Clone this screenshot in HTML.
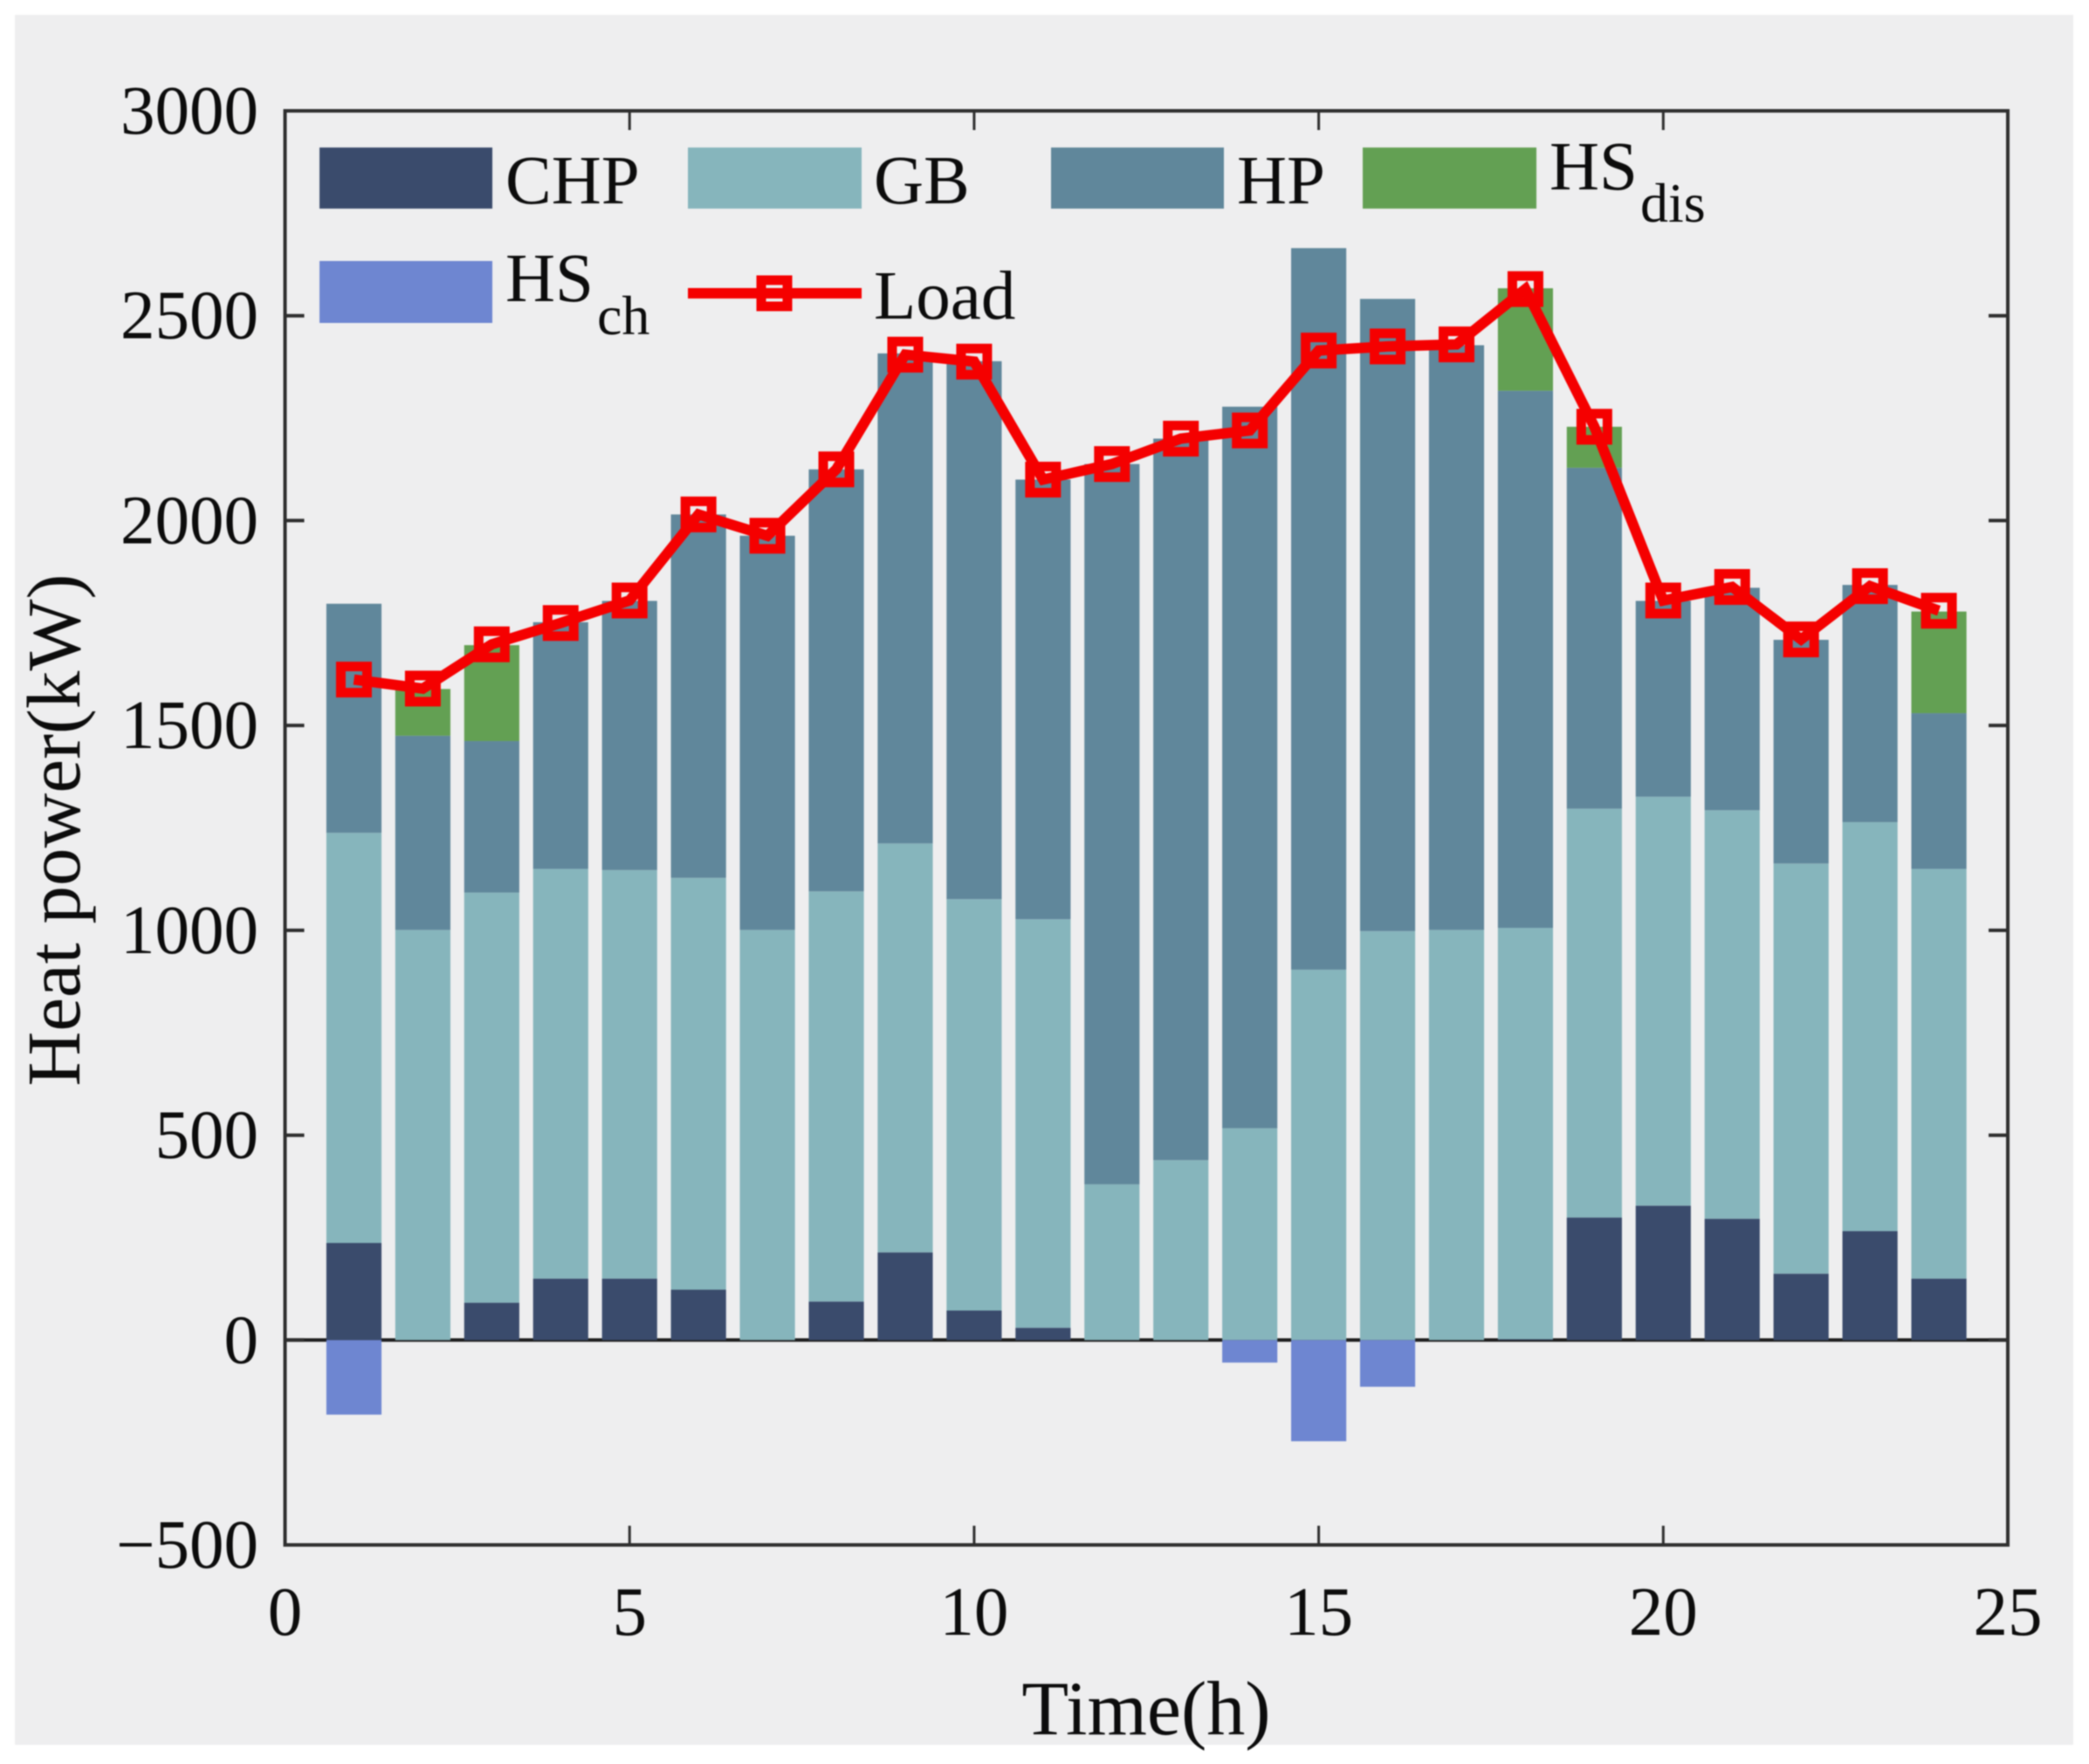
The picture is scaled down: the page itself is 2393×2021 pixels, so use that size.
<!DOCTYPE html>
<html>
<head>
<meta charset="utf-8">
<title>Heat power stacked bar chart</title>
<style>
html,body{margin:0;padding:0;background:#fff;}
svg{display:block;filter:blur(0.7px);}
text{font-family:"Liberation Serif",serif;fill:#0c0c0c;}
</style>
</head>
<body>
<svg id="chart" xmlns="http://www.w3.org/2000/svg" width="2393" height="2021" viewBox="0 0 2393 2021">
  <rect x="0" y="0" width="2393" height="2021" fill="#ffffff"/>
  <rect x="17" y="17" width="2358" height="1982" fill="#eeeeef"/>
  <g id="marks"></g>
  <g id="axes"></g>
  <g id="line"></g>
  <g>
    <g>
      <rect x="366" y="169" width="198" height="70" fill="#3a4b6c"/>
      <text x="579" y="233" font-size="79">CHP</text>
    </g>
    <g>
      <rect x="788" y="169" width="199" height="70" fill="#86b5bc"/>
      <text x="1001" y="233" font-size="79">GB</text>
    </g>
    <g>
      <rect x="1204" y="169" width="198" height="70" fill="#60879b"/>
      <text x="1417" y="233" font-size="79">HP</text>
    </g>
    <g>
      <rect x="1561" y="169" width="199" height="70" fill="#63a053"/>
      <text x="1775" y="217" font-size="79">HS</text>
      <text x="1879" y="254" font-size="64">dis</text>
    </g>
    <g>
      <rect x="366" y="299" width="198" height="71" fill="#6e86d1"/>
      <text x="579" y="345" font-size="79">HS</text>
      <text x="684" y="383" font-size="64">ch</text>
    </g>
    <g>
      <line x1="788" y1="336" x2="987" y2="336" stroke="#f50000" stroke-width="12"/>
      <rect x="872" y="321" width="30" height="30" fill="none" stroke="#f50000" stroke-width="11"/>
      <text x="1001" y="365" font-size="79">Load</text>
    </g>
  </g>
  <text x="1313" y="1987" font-size="88" text-anchor="middle">Time(h)</text>
  <text x="0" y="0" font-size="87" text-anchor="middle" transform="translate(91 951) rotate(-90)">Heat power(kW)</text>
</svg>
<script>
var hours = [1,2,3,4,5,6,7,8,9,10,11,12,13,14,15,16,17,18,19,20,21,22,23,24];
var chp = [237,0,91,150,150,123,0,94,214,72,30,0,0,0,0,0,0,2,299,328,296,162,266,150];
var gb = [1001,1001,1001,1000,997,1005,1001,1001,998,1004,997,380,439,517,904,998,1001,1004,998,998,997,1001,998,1000];
var hp = [559,474,370,602,657,887,962,1030,1196,1313,1073,1758,1761,1761,1761,1543,1427,1311,832,478,543,546,579,380];
var hsDis = [0,114,234,0,0,0,0,0,0,0,0,0,0,0,0,0,0,250,100,0,0,0,0,248];
var hsCh = [-182,0,0,0,0,0,0,0,0,0,0,0,0,-55,-247,-114,0,0,0,0,0,0,0,0];
var load = [1612,1590,1698,1750,1805,2015,1963,2125,2405,2388,2100,2138,2200,2220,2415,2425,2430,2565,2229,1805,1838,1710,1840,1780];
var xTicks = [0,5,10,15,20,25];
var yTicks = [-500,0,500,1000,1500,2000,2500,3000];

var plotLeft = 326.5, plotRight = 2300, plotTop = 127, plotBottom = 1770;
var xMin = 0, xMax = 25, yMin = -500, yMax = 3000;
var barUnits = 0.8;
var NS = 'http://www.w3.org/2000/svg';
function xScale(v){ return plotLeft + (v - xMin) / (xMax - xMin) * (plotRight - plotLeft); }
function yScale(v){ return plotBottom - (v - yMin) / (yMax - yMin) * (plotBottom - plotTop); }
function make(tag, parent, attrs){
  var el = document.createElementNS(NS, tag);
  for (var k in attrs) { el.setAttribute(k, attrs[k]); }
  parent.appendChild(el);
  return el;
}
var marks = document.getElementById('marks');
var axes = document.getElementById('axes');
var lineGroup = document.getElementById('line');
var barWidth = xScale(barUnits) - xScale(0);

var zero = make('line', marks, {x1: plotLeft, x2: plotRight, y1: yScale(0), y2: yScale(0), stroke: '#1c1c1c', 'stroke-width': 4});



function drawBar(hour, from, to, color, kind){
  var top = Math.min(yScale(from), yScale(to));
  var h = Math.abs(yScale(from) - yScale(to));
  var r = make('rect', marks, {x: xScale(hour) - barWidth / 2, y: top, width: barWidth, height: h, fill: color});
  
  
}
hours.forEach(function(hour, i){
  var s = 0;
  if (chp[i] > 0) { drawBar(hour, s, s + chp[i], '#3a4b6c', 'chp'); }
  s += chp[i];
  drawBar(hour, s, s + gb[i], '#86b5bc', 'gb');
  s += gb[i];
  drawBar(hour, s, s + hp[i], '#60879b', 'hp');
  s += hp[i];
  if (hsDis[i] > 0) { drawBar(hour, s, s + hsDis[i], '#63a053', 'hs-dis'); }
  if (hsCh[i] < 0) { drawBar(hour, 0, hsCh[i], '#6e86d1', 'hs-ch'); }
});

var frame = make('rect', axes, {x: plotLeft, y: plotTop, width: plotRight - plotLeft, height: plotBottom - plotTop, fill: 'none', stroke: '#2e2e2e', 'stroke-width': 4});



var tickLen = 22;
xTicks.forEach(function(t){
  var x = xScale(t);
  var a = make('line', axes, {x1: x, x2: x, y1: plotBottom, y2: plotBottom - tickLen, stroke: '#2e2e2e', 'stroke-width': 3});
  
  
  var b = make('line', axes, {x1: x, x2: x, y1: plotTop, y2: plotTop + tickLen, stroke: '#2e2e2e', 'stroke-width': 3});
  
  
  var lab = make('text', axes, {x: x, y: 1873, 'font-size': 79, 'text-anchor': 'middle'});
  lab.textContent = String(t);
  
  
});
yTicks.forEach(function(t){
  var y = yScale(t);
  var a = make('line', axes, {x1: plotLeft, x2: plotLeft + tickLen, y1: y, y2: y, stroke: '#2e2e2e', 'stroke-width': 4});
  
  
  var b = make('line', axes, {x1: plotRight, x2: plotRight - tickLen, y1: y, y2: y, stroke: '#2e2e2e', 'stroke-width': 4});
  
  
  var lab = make('text', axes, {x: 296, y: y + 26, 'font-size': 79, 'text-anchor': 'end'});
  lab.textContent = t < 0 ? '\u2212' + Math.abs(t) : String(t);
  
  
});

var pts = hours.map(function(h, i){ return xScale(h) + ',' + yScale(load[i]); }).join(' ');
var poly = make('polyline', lineGroup, {points: pts, fill: 'none', stroke: '#f50000', 'stroke-width': 12, 'stroke-linejoin': 'miter'});


hours.forEach(function(h, i){
  var m = make('rect', lineGroup, {x: xScale(h) - 15, y: yScale(load[i]) - 15, width: 30, height: 30, fill: 'none', stroke: '#f50000', 'stroke-width': 11});
  
  
});
</script>
</body>
</html>
